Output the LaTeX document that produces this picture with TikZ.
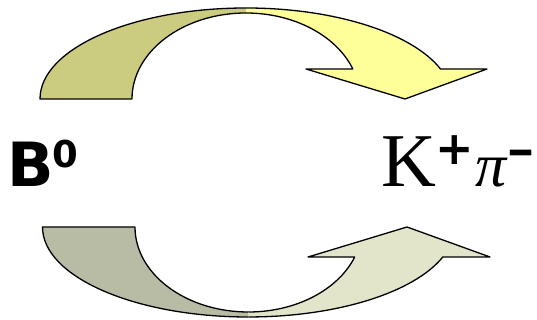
\documentclass[tikz,border=0pt]{standalone}
\usepackage{graphicx}
\usepackage{fontspec}
\newfontfamily\verd{DejaVu Sans}
\newfontfamily\tnr{Liberation Serif}
\definecolor{topdark}{HTML}{CCCC80}
\definecolor{toplight}{HTML}{FFFF99}
\definecolor{botdark}{HTML}{B8BCA4}
\definecolor{botlight}{HTML}{E2E5C9}
\begin{document}
\begin{tikzpicture}[x=1pt,y=1pt,
  outline/.style={draw=black, line width=1.3pt, line join=round},
  lbl/.style={anchor=base west, inner sep=0pt, outer sep=0pt}]
\useasboundingbox (0,0) rectangle (537,320);
% ---------- top curved arrow (centre 246,221) ----------
\filldraw[outline, fill=topdark]
  (246,307) arc[start angle=90, end angle=180, x radius=114pt, y radius=86pt]
  -- (40,221)
  arc[start angle=180, end angle=90, x radius=206pt, y radius=91pt];
\filldraw[outline, fill=toplight]
  (246,307) arc[start angle=90, end angle=20.4, x radius=114pt, y radius=86pt]
  -- (306,251) -- (405,221) -- (487,251) -- (440.5,251)
  arc[start angle=19.25, end angle=90, x radius=206pt, y radius=91pt];
% ---------- bottom curved arrow (centre 248.5,93) ----------
\filldraw[outline, fill=botdark]
  (248.5,8) arc[start angle=270, end angle=180, x radius=113.5pt, y radius=85pt]
  -- (42.5,93)
  arc[start angle=180, end angle=270, x radius=206pt, y radius=90pt];
\filldraw[outline, fill=botlight]
  (248.5,8) arc[start angle=270, end angle=339.3, x radius=113.5pt, y radius=85pt]
  -- (308,63) -- (407,93) -- (490,63) -- (442.8,63)
  arc[start angle=340.5, end angle=270, x radius=206pt, y radius=90pt];
% ---------- labels ----------
\node[lbl] (b0) at (8,133) {\verd\bfseries\fontsize{61}{61}\selectfont B\kern-2pt\raisebox{19pt}{\fontsize{37}{37}\selectfont 0}};
\node[lbl] (kpi) at (381,133) {\tnr\fontsize{76}{76}\selectfont K\raisebox{22pt}{\verd\bfseries\fontsize{46}{46}\selectfont +}\kern1pt{\itshape\fontsize{62}{62}\selectfont π}\kern0pt\raisebox{22.5pt}{\verd\bfseries\fontsize{40}{40}\selectfont\scalebox{1.75}[1]{-}}};
\end{tikzpicture}
\end{document}
